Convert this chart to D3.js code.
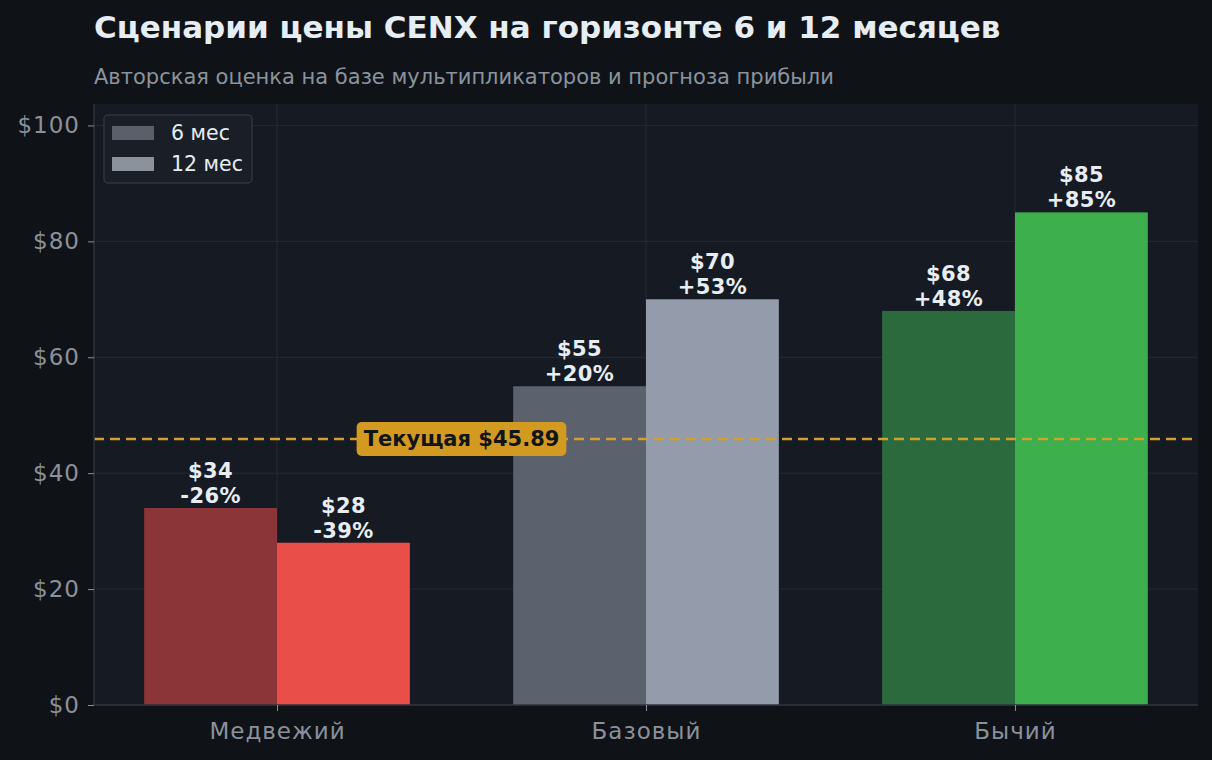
<!DOCTYPE html>
<html>
<head>
<meta charset="utf-8">
<script src="https://cdn.jsdelivr.net/npm/d3@7"></script>
<style>
  body { margin: 0; background: #0f1317; }
  svg { display: block; font-family: "DejaVu Sans", sans-serif; }
</style>
</head>
<body>
<div id="chart"></div>
<script>
var svgWidth = 1212;
var svgHeight = 760;

// data
var scenarios = ['Медвежий', 'Базовый', 'Бычий'];
var horizons = ['6 мес', '12 мес'];
var price6 = [34, 55, 68];
var price12 = [28, 70, 85];
var change6 = ['-26%', '+20%', '+48%'];
var change12 = ['-39%', '+53%', '+85%'];
var currentPrice = 45.89;
var yTicks = [0, 20, 40, 60, 80, 100];

var colors6 = ['#8b3538', '#5b616d', '#2b6a3c'];
var colors12 = ['#ea4e48', '#949cab', '#3daf4d'];
var legendColors = ['#5a5f69', '#8c929c'];

var margins = { top: 104, bottom: 55, right: 14, left: 94 };
var width = svgWidth - margins.left - margins.right;
var height = svgHeight - margins.top - margins.bottom;

var svg = d3.select('#chart')
    .append('svg')
    .attr('width', svgWidth)
    .attr('height', svgHeight);

svg.append('rect')
    .attr('width', svgWidth)
    .attr('height', svgHeight)
    .attr('fill', '#0f1317');

// titles
svg.append('text')
    .attr('x', margins.left)
    .attr('y', 38)
    .attr('fill', '#e6edf3')
    .style('font-size', '31px')
    .style('font-weight', 'bold')
    .text('Сценарии цены CENX на горизонте 6 и 12 месяцев');

svg.append('text')
    .attr('x', margins.left)
    .attr('y', 84)
    .attr('fill', '#8b949e')
    .style('font-size', '21px')
    .text('Авторская оценка на базе мультипликаторов и прогноза прибыли');

var chartGroup = svg.append('g')
    .attr('transform', `translate(${margins.left}, ${margins.top})`);

chartGroup.append('rect')
    .attr('width', width)
    .attr('height', height)
    .attr('fill', '#161a23');

// scales
var barW = 0.36;
var xLinear = d3.scaleLinear()
    .domain([-barW - 0.136, scenarios.length - 1 + barW + 0.136])
    .range([0, width]);

var yLinear = d3.scaleLinear()
    .domain([0, d3.max(price12) * 1.22])
    .range([height, 0]);

// grid
chartGroup.selectAll('.hgrid')
    .data(yTicks)
    .enter()
    .append('line')
    .attr('x1', 0)
    .attr('x2', width)
    .attr('y1', d => yLinear(d))
    .attr('y2', d => yLinear(d))
    .attr('stroke', '#252a34')
    .attr('stroke-width', 1);

chartGroup.selectAll('.vgrid')
    .data(scenarios)
    .enter()
    .append('line')
    .attr('x1', (d, i) => xLinear(i))
    .attr('x2', (d, i) => xLinear(i))
    .attr('y1', 0)
    .attr('y2', height)
    .attr('stroke', '#252a34')
    .attr('stroke-width', 1);

// bars
var barPx = xLinear(barW) - xLinear(0);

chartGroup.selectAll('.bar6')
    .data(price6)
    .enter()
    .append('rect')
    .attr('x', (d, i) => xLinear(i - barW))
    .attr('y', d => yLinear(d))
    .attr('width', barPx)
    .attr('height', d => height - yLinear(d))
    .attr('fill', (d, i) => colors6[i]);

chartGroup.selectAll('.bar12')
    .data(price12)
    .enter()
    .append('rect')
    .attr('x', (d, i) => xLinear(i))
    .attr('y', d => yLinear(d))
    .attr('width', barPx)
    .attr('height', d => height - yLinear(d))
    .attr('fill', (d, i) => colors12[i]);

// bar labels
function addLabels(values, changes, offset) {
    var g = chartGroup.selectAll(null)
        .data(values)
        .enter()
        .append('text')
        .attr('x', (d, i) => xLinear(i + offset))
        .attr('y', d => yLinear(d) - 5)
        .attr('text-anchor', 'middle')
        .attr('fill', '#e6edf3')
        .style('font-size', '21px')
        .style('letter-spacing', '0.4px')
        .style('font-weight', 'bold');
    g.append('tspan')
        .attr('x', (d, i) => xLinear(i + offset))
        .attr('dy', '-1.2em')
        .text(d => '$' + d);
    g.append('tspan')
        .attr('x', (d, i) => xLinear(i + offset))
        .attr('dy', '1.2em')
        .text((d, i) => changes[i]);
}
addLabels(price6, change6, -barW / 2);
addLabels(price12, change12, barW / 2);

// current price line
chartGroup.append('line')
    .attr('x1', 0)
    .attr('x2', width)
    .attr('y1', yLinear(currentPrice))
    .attr('y2', yLinear(currentPrice))
    .attr('stroke', '#d4a02a')
    .attr('stroke-width', 2.5)
    .attr('stroke-dasharray', '10,6');

var tag = chartGroup.append('g')
    .attr('transform', `translate(${xLinear(0.5)}, ${yLinear(currentPrice)})`);
var tagText = tag.append('text')
    .attr('text-anchor', 'middle')
    .attr('dy', '0.35em')
    .attr('fill', '#111418')
    .style('font-size', '21px')
    .style('font-weight', 'bold')
    .text('Текущая $' + currentPrice.toFixed(2));
var bb = tagText.node().getBBox();
tag.insert('rect', 'text')
    .attr('x', bb.x - 7)
    .attr('y', -17)
    .attr('width', bb.width + 14)
    .attr('height', 34)
    .attr('rx', 5)
    .attr('fill', '#d39a22');

// axes
var leftAxis = d3.axisLeft(yLinear)
    .tickValues(yTicks)
    .tickFormat(d => '$' + d)
    .tickSize(6)
    .tickPadding(8);

var bottomAxis = d3.axisBottom(xLinear)
    .tickValues([0, 1, 2])
    .tickFormat(d => scenarios[d])
    .tickSize(6)
    .tickPadding(12);

var yAxisG = chartGroup.append('g').call(leftAxis);
var xAxisG = chartGroup.append('g')
    .attr('transform', `translate(0, ${height})`)
    .call(bottomAxis);

[yAxisG, xAxisG].forEach(function(g) {
    g.select('.domain').attr('stroke', '#2e333d').attr('stroke-width', 1.5);
    g.selectAll('.tick line').attr('stroke', '#8b919b');
    g.selectAll('.tick text')
        .attr('fill', '#8b919b')
        .style('font-size', '23px')
        .style('letter-spacing', '1px')
        .style('font-family', '"DejaVu Sans", sans-serif');
});
yAxisG.select('.domain').attr('d', `M0,0V${height}`);
xAxisG.select('.domain').attr('d', `M0,0H${width}`);

// legend
var legend = chartGroup.append('g')
    .attr('transform', 'translate(10, 11)');
legend.append('rect')
    .attr('width', 148)
    .attr('height', 68)
    .attr('rx', 4)
    .attr('fill', '#1a1e27')
    .attr('stroke', '#30353f')
    .attr('stroke-width', 1.5);
legend.selectAll('.sw')
    .data(horizons)
    .enter()
    .append('rect')
    .attr('x', 8)
    .attr('y', (d, i) => 11 + i * 31)
    .attr('width', 42)
    .attr('height', 14)
    .attr('fill', (d, i) => legendColors[i]);
legend.selectAll('.lt')
    .data(horizons)
    .enter()
    .append('text')
    .attr('x', 67)
    .attr('y', (d, i) => 18 + i * 31)
    .attr('dy', '0.35em')
    .attr('fill', '#e6edf3')
    .style('font-size', '20.5px')
    .text(d => d);
</script>
</body>
</html>
